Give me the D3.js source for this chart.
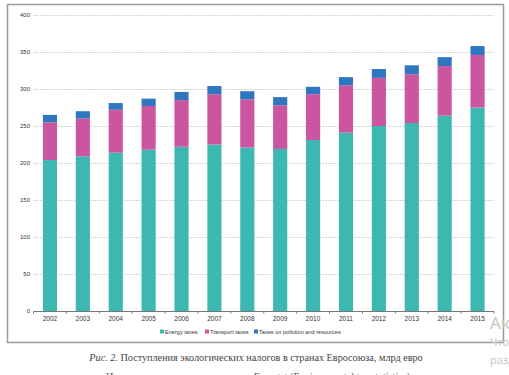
<!DOCTYPE html>
<html>
<head>
<meta charset="utf-8">
<script src="https://cdn.jsdelivr.net/npm/d3@7"></script>
<style>
  body { margin: 0; background: #fff; overflow: hidden; }
  svg { display: block; }
</style>
</head>
<body>
<div class="canvas"></div>
<script>
// data (billion euro)
const years = ['2002','2003','2004','2005','2006','2007','2008','2009','2010','2011','2012','2013','2014','2015'];
const energy    = [204, 209, 214, 218, 222, 225, 221, 219, 231, 241, 250, 254, 264, 275];
const transport = [ 51,  51,  58,  59,  63,  68,  65,  59,  62,  64,  65,  66,  67,  71];
const pollution = [ 10,  10,   9,  10,  11,  11,  11,  11,  10,  11,  12,  12,  12,  12];
const yTicks = [0, 50, 100, 150, 200, 250, 300, 350, 400];
const seriesNames = ['Energy taxes', 'Transport taxes', 'Taxes on pollution and resources'];
const colors = ['#3db8b1', '#cc559f', '#2e77bf'];

const rows = years.map((y, i) => ({ year: y, e: energy[i], t: transport[i], p: pollution[i] }));
const stack = d3.stack().keys(['e', 't', 'p'])(rows);

const svg = d3.select('.canvas').append('svg')
    .attr('width', 509)
    .attr('height', 375);

// frame around the chart
svg.append('rect')
    .attr('x', 7.5).attr('y', 4.5)
    .attr('width', 496).attr('height', 338)
    .attr('fill', 'none')
    .attr('stroke', '#9a9a9a')
    .attr('stroke-width', 1.5);

const x = d3.scaleBand().domain(years).range([33.5, 494]).paddingInner(0.57).paddingOuter(0.285);
const y = d3.scaleLinear().domain([0, 400]).range([311, 15]);

// grid
svg.append('g')
    .selectAll('line')
    .data(yTicks.filter(d => d > 0))
    .join('line')
    .attr('x1', 34).attr('x2', 494)
    .attr('y1', d => y(d) + 0.5).attr('y2', d => y(d) + 0.5)
    .attr('stroke', '#d4d4d4')
    .attr('stroke-dasharray', '2,1');

// y labels
svg.append('g')
    .selectAll('text')
    .data(yTicks)
    .join('text')
    .attr('x', 30)
    .attr('y', d => y(d) + 2)
    .attr('text-anchor', 'end')
    .attr('font-family', 'Arial, "Liberation Sans", sans-serif')
    .attr('font-size', 6)
    .attr('fill', '#333')
    .text(d => d);

// bars
svg.append('g')
    .selectAll('g')
    .data(stack)
    .join('g')
    .attr('fill', (d, i) => colors[i])
    .selectAll('rect')
    .data(d => d)
    .join('rect')
    .attr('x', d => x(d.data.year))
    .attr('width', x.bandwidth())
    .attr('y', d => y(d[1]))
    .attr('height', d => y(d[0]) - y(d[1]));

// x axis
const xAxis = svg.append('g')
    .attr('transform', 'translate(0,311.5)');
xAxis.append('line')
    .attr('x1', 33.5).attr('x2', 494)
    .attr('stroke', '#777');
xAxis.selectAll('.tk')
    .data(years.concat(['end']))
    .join('line')
    .attr('class', 'tk')
    .attr('x1', (d, i) => 33.5 + i * x.step())
    .attr('x2', (d, i) => 33.5 + i * x.step())
    .attr('y1', 0).attr('y2', 2)
    .attr('stroke', '#777');
xAxis.selectAll('text')
    .data(years)
    .join('text')
    .attr('x', d => x(d) + x.bandwidth() / 2)
    .attr('y', 9)
    .attr('text-anchor', 'middle')
    .attr('font-family', 'Arial, "Liberation Sans", sans-serif')
    .attr('font-size', 6.5)
    .attr('fill', '#333')
    .text(d => d);

// legend
const legendX = [160, 205, 254];
const legend = svg.append('g')
    .selectAll('g')
    .data(seriesNames)
    .join('g')
    .attr('transform', (d, i) => `translate(${legendX[i]},333)`);
legend.append('rect')
    .attr('x', 0).attr('y', -3.5)
    .attr('width', 4).attr('height', 4)
    .attr('fill', (d, i) => colors[i]);
legend.append('text')
    .attr('x', 5)
    .attr('y', 0.5)
    .attr('font-family', 'Arial, "Liberation Sans", sans-serif')
    .attr('font-size', 5.6)
    .attr('fill', '#333')
    .text(d => d);

// caption under the frame
const caption = svg.append('text')
    .attr('x', 256)
    .attr('y', 361)
    .attr('text-anchor', 'middle')
    .attr('font-family', '"Liberation Serif", "DejaVu Serif", serif')
    .attr('font-size', 10.2)
    .attr('fill', '#444');
caption.append('tspan').attr('font-style', 'italic').text('Рис. 2.');
caption.append('tspan').text(' Поступления экологических налогов в странах Евросоюза, млрд евро');

svg.append('text')
    .attr('x', 258)
    .attr('y', 380)
    .attr('text-anchor', 'middle')
    .attr('font-family', '"Liberation Serif", "DejaVu Serif", serif')
    .attr('font-size', 10.2)
    .attr('fill', '#555')
    .text('Источник: составлено по данным Eurostat (Environmental tax statistics)');

// faint system watermark at right edge
svg.append('text')
    .attr('x', 490).attr('y', 329)
    .attr('font-family', '"Noto Sans", sans-serif')
    .attr('font-size', 17)
    .attr('fill', '#c8c8c8')
    .text('Активация Windows');
svg.append('text')
    .attr('x', 490).attr('y', 346)
    .attr('font-family', '"Noto Sans", sans-serif')
    .attr('font-size', 11)
    .attr('fill', '#c8c8c8')
    .text('Чтобы активировать Windows');
svg.append('text')
    .attr('x', 490).attr('y', 364)
    .attr('font-family', '"Noto Sans", sans-serif')
    .attr('font-size', 11)
    .attr('fill', '#c8c8c8')
    .text('раздел «Параметры»');
</script>
</body>
</html>
